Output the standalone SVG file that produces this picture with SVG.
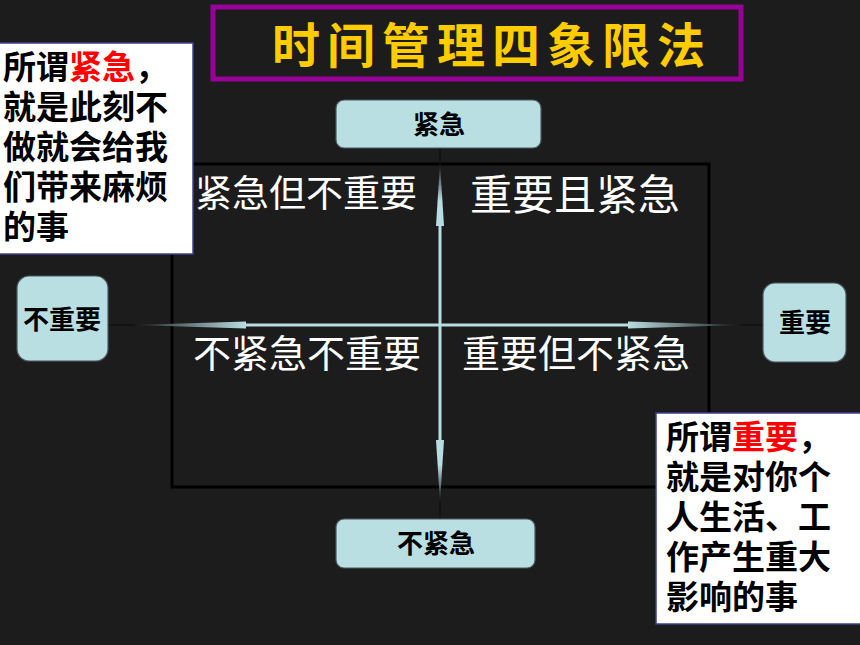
<svg xmlns="http://www.w3.org/2000/svg" width="860" height="645" viewBox="0 0 860 645">
<defs>
<style>
.cjk{font-family:"Noto Sans CJK SC","Noto Sans",sans-serif}
.node rect{fill:#b9dfe3;stroke:#4a5a5c;stroke-width:1.2}
.node text{font-size:26px;font-weight:700;fill:#000;text-anchor:middle}
.quad{fill:#fff;font-weight:400}
.note{font-size:33px;font-weight:700;fill:#000}
.red{fill:#ff0000}
.axis{stroke:#b7dde2;stroke-width:3;fill:none}
.lead{stroke:#111;stroke-width:1.5;fill:none}
</style>
<linearGradient id="gl" x1="0" y1="0" x2="1" y2="0"><stop offset="0" stop-color="#1c1c1c"/><stop offset="1" stop-color="#b7dde2"/></linearGradient>
<linearGradient id="gr" x1="1" y1="0" x2="0" y2="0"><stop offset="0" stop-color="#1c1c1c"/><stop offset="1" stop-color="#b7dde2"/></linearGradient>
<linearGradient id="gu" x1="0" y1="0" x2="0" y2="1"><stop offset="0" stop-color="#1c1c1c"/><stop offset="0.6" stop-color="#b7dde2"/></linearGradient>
<linearGradient id="gd" x1="0" y1="1" x2="0" y2="0"><stop offset="0" stop-color="#1c1c1c"/><stop offset="0.6" stop-color="#b7dde2"/></linearGradient>
</defs>
<rect x="0" y="0" width="860" height="645" fill="#1c1c1c"/>

<g id="quadrant-frame">
<rect x="172" y="164" width="537" height="323" fill="none" stroke="#000" stroke-width="3"/>
</g>

<g id="quadrant-labels" class="cjk">
<text class="quad" x="195" y="207" font-size="37">紧急但不重要</text>
<text class="quad" x="470" y="210" font-size="42">重要且紧急</text>
<text class="quad" x="193" y="367" font-size="38">不紧急不重要</text>
<text class="quad" x="462" y="367" font-size="38">重要但不紧急</text>
</g>

<g id="connectors">
<line class="lead" x1="440" y1="148" x2="440" y2="165"/>
<line class="lead" x1="440" y1="500" x2="440" y2="519"/>
<line class="lead" x1="108" y1="325" x2="135" y2="325"/>
<line class="lead" x1="740" y1="325" x2="763" y2="325"/>
<line class="axis" x1="440" y1="222" x2="440" y2="443"/>
<line class="axis" x1="243" y1="325" x2="630" y2="325"/>
<polygon fill="url(#gu)" points="440,163 444,226 436,226"/>
<polygon fill="url(#gd)" points="440,502 444,440 436,440"/>
<polygon fill="url(#gl)" points="133,325 246,321.5 246,328.5"/>
<polygon fill="url(#gr)" points="742,325 628,321.5 628,328.5"/>
</g>

<g id="node-urgent" class="node cjk">
<rect x="336" y="100" width="205" height="48" rx="8"/>
<text x="439" y="134">紧急</text>
</g>
<g id="node-not-urgent" class="node cjk">
<rect x="336" y="519" width="199" height="49" rx="8"/>
<text x="436" y="553">不紧急</text>
</g>
<g id="node-not-important" class="node cjk">
<rect x="17" y="276" width="91" height="85" rx="12"/>
<text x="62" y="329">不重要</text>
</g>
<g id="node-important" class="node cjk">
<rect x="763" y="283" width="83" height="79" rx="12"/>
<text x="805" y="332">重要</text>
</g>

<g id="note-urgent" class="cjk">
<rect x="-2" y="43" width="195" height="211" fill="#fff" stroke="#3f3f8f" stroke-width="1.5"/>
<text class="note" x="3" y="79">所谓<tspan class="red">紧急</tspan>，</text>
<text class="note" x="3" y="119">就是此刻不</text>
<text class="note" x="3" y="159">做就会给我</text>
<text class="note" x="3" y="199">们带来麻烦</text>
<text class="note" x="3" y="239">的事</text>
</g>

<g id="note-important" class="cjk">
<rect x="656" y="413" width="210" height="211" fill="#fff" stroke="#3f3f8f" stroke-width="1.5"/>
<text class="note" x="666" y="449">所谓<tspan class="red">重要</tspan>，</text>
<text class="note" x="666" y="489">就是对你个</text>
<text class="note" x="666" y="529">人生活、工</text>
<text class="note" x="666" y="569">作产生重大</text>
<text class="note" x="666" y="609">影响的事</text>
</g>

<g id="title" class="cjk">
<rect x="213" y="7" width="528" height="72" fill="none" stroke="#990099" stroke-width="5"/>
<text x="272" y="63" font-size="48" font-weight="700" fill="#ffcc00" letter-spacing="7">时间管理四象限法</text>
</g>
</svg>
